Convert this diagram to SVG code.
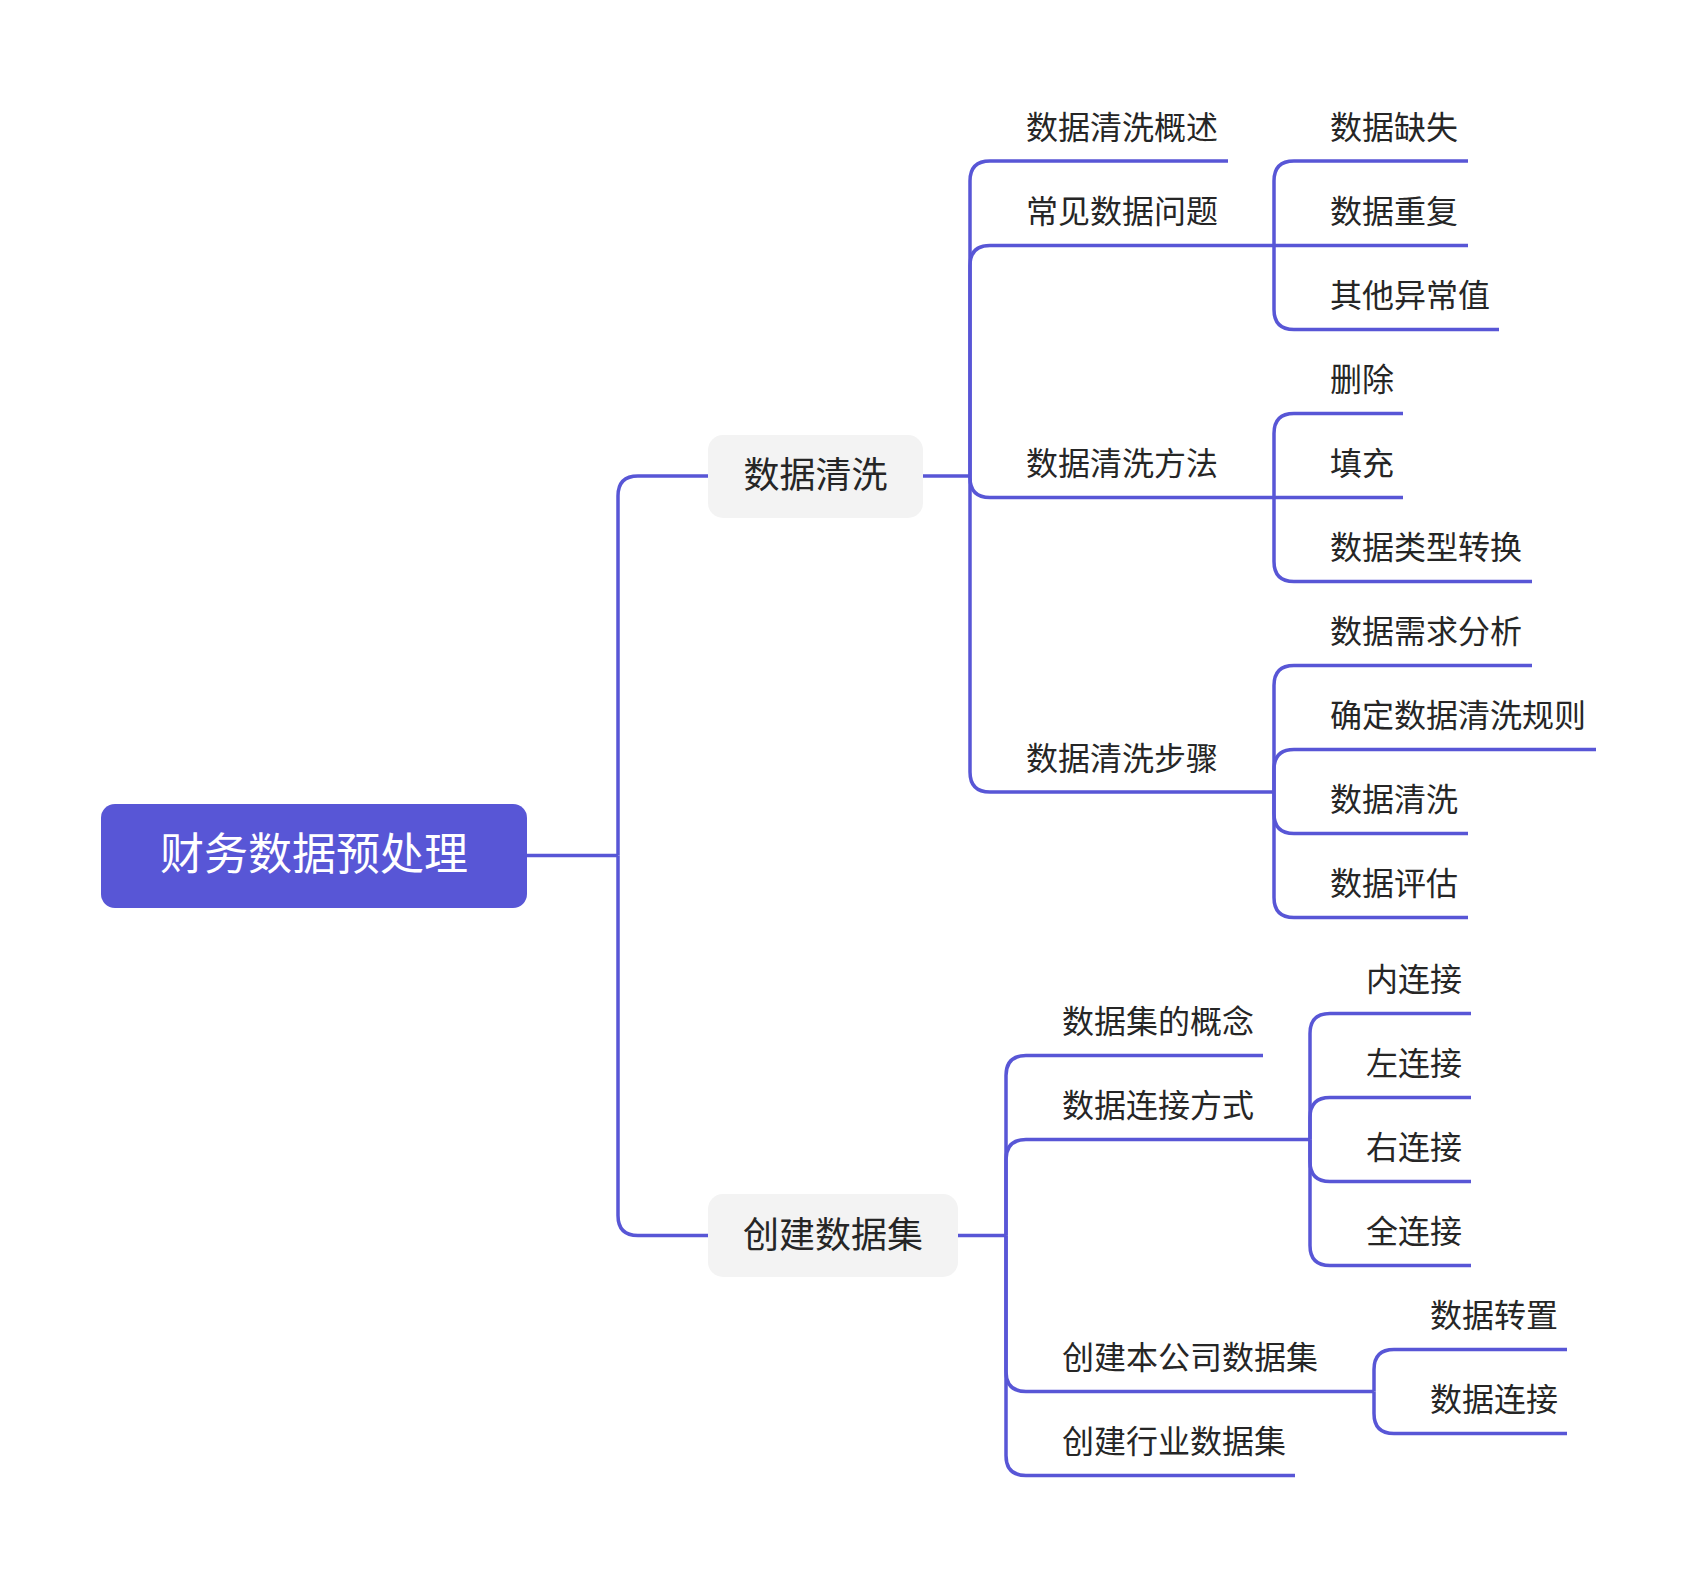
<svg xmlns="http://www.w3.org/2000/svg" width="1696" height="1578" viewBox="0 0 1696 1578">
<style>
.c{fill:none;stroke:#5856D6;stroke-width:3.5;stroke-linecap:butt;stroke-linejoin:round}
.t{font-family:"Noto Sans CJK SC","Noto Sans",sans-serif;fill:#262626}
.s{font-size:32px}
.n{font-size:36px;text-anchor:middle}
.r{font-size:44px;fill:#FFFFFF;text-anchor:middle}
.box{fill:#F3F3F3}
</style>
<rect width="1696" height="1578" fill="#FFFFFF"/>
<g id="connectors">
<path class="c" d="M527 855.5 H618"/>
<path class="c" d="M618 855.5 V496 Q618 476 638 476 H708"/>
<path class="c" d="M618 855.5 V1215.5 Q618 1235.5 638 1235.5 H708"/>
<path class="c" d="M923 476 H970"/>
<path class="c" d="M958 1235.5 H1006"/>
<path class="c" d="M970 476 V181 Q970 161 990 161 H1228"/>
<path class="c" d="M970 476 V265.5 Q970 245.5 990 245.5 H1274"/>
<path class="c" d="M970 476 V477.5 Q970 497.5 990 497.5 H1274"/>
<path class="c" d="M970 476 V772 Q970 792 990 792 H1274"/>
<path class="c" d="M1274 245.5 V181 Q1274 161 1294 161 H1468"/>
<path class="c" d="M1274 245.5 H1468"/>
<path class="c" d="M1274 245.5 V309.5 Q1274 329.5 1294 329.5 H1499"/>
<path class="c" d="M1274 497.5 V433.5 Q1274 413.5 1294 413.5 H1403"/>
<path class="c" d="M1274 497.5 H1403"/>
<path class="c" d="M1274 497.5 V561.5 Q1274 581.5 1294 581.5 H1532"/>
<path class="c" d="M1274 792 V685.5 Q1274 665.5 1294 665.5 H1532"/>
<path class="c" d="M1274 792 V769.5 Q1274 749.5 1294 749.5 H1596"/>
<path class="c" d="M1274 792 V813.5 Q1274 833.5 1294 833.5 H1468"/>
<path class="c" d="M1274 792 V897.5 Q1274 917.5 1294 917.5 H1468"/>
<path class="c" d="M1006 1235.5 V1075.5 Q1006 1055.5 1026 1055.5 H1263"/>
<path class="c" d="M1006 1235.5 V1159.5 Q1006 1139.5 1026 1139.5 H1310"/>
<path class="c" d="M1006 1235.5 V1371.5 Q1006 1391.5 1026 1391.5 H1374"/>
<path class="c" d="M1006 1235.5 V1455.5 Q1006 1475.5 1026 1475.5 H1295"/>
<path class="c" d="M1310 1139.5 V1033.5 Q1310 1013.5 1330 1013.5 H1471"/>
<path class="c" d="M1310 1139.5 V1117.5 Q1310 1097.5 1330 1097.5 H1471"/>
<path class="c" d="M1310 1139.5 V1161.5 Q1310 1181.5 1330 1181.5 H1471"/>
<path class="c" d="M1310 1139.5 V1245.5 Q1310 1265.5 1330 1265.5 H1471"/>
<path class="c" d="M1374 1391.5 V1369.5 Q1374 1349.5 1394 1349.5 H1567"/>
<path class="c" d="M1374 1391.5 V1413.5 Q1374 1433.5 1394 1433.5 H1567"/>
</g>
<g id="root">
<rect x="101" y="804" width="426" height="104" rx="14" fill="#5856D6"/>
<text class="t r" x="314" y="870">财务数据预处理</text>
</g>
<g id="n-cleaning">
<rect class="box" x="708" y="435" width="215" height="83" rx="15"/>
<text class="t n" x="815.5" y="488">数据清洗</text>
</g>
<g id="n-dataset">
<rect class="box" x="708" y="1194" width="250" height="83" rx="15"/>
<text class="t n" x="833" y="1247.5">创建数据集</text>
</g>
<g id="n-overview"><text class="t s" x="1026" y="138.5">数据清洗概述</text></g>
<g id="n-problems"><text class="t s" x="1026" y="223">常见数据问题</text></g>
<g id="n-methods"><text class="t s" x="1026" y="475">数据清洗方法</text></g>
<g id="n-steps"><text class="t s" x="1026" y="769.5">数据清洗步骤</text></g>
<g id="n-missing"><text class="t s" x="1330" y="138.5">数据缺失</text></g>
<g id="n-duplicate"><text class="t s" x="1330" y="223">数据重复</text></g>
<g id="n-outlier"><text class="t s" x="1330" y="307">其他异常值</text></g>
<g id="n-delete"><text class="t s" x="1330" y="391">删除</text></g>
<g id="n-fill"><text class="t s" x="1330" y="475">填充</text></g>
<g id="n-convert"><text class="t s" x="1330" y="559">数据类型转换</text></g>
<g id="n-demand"><text class="t s" x="1330" y="643">数据需求分析</text></g>
<g id="n-rules"><text class="t s" x="1330" y="727">确定数据清洗规则</text></g>
<g id="n-clean2"><text class="t s" x="1330" y="811">数据清洗</text></g>
<g id="n-eval"><text class="t s" x="1330" y="895">数据评估</text></g>
<g id="n-concept"><text class="t s" x="1062" y="1033">数据集的概念</text></g>
<g id="n-join"><text class="t s" x="1062" y="1117">数据连接方式</text></g>
<g id="n-own"><text class="t s" x="1062" y="1369">创建本公司数据集</text></g>
<g id="n-industry"><text class="t s" x="1062" y="1453">创建行业数据集</text></g>
<g id="n-inner"><text class="t s" x="1366" y="991">内连接</text></g>
<g id="n-left"><text class="t s" x="1366" y="1075">左连接</text></g>
<g id="n-right"><text class="t s" x="1366" y="1159">右连接</text></g>
<g id="n-full"><text class="t s" x="1366" y="1243">全连接</text></g>
<g id="n-transpose"><text class="t s" x="1430" y="1327">数据转置</text></g>
<g id="n-connect"><text class="t s" x="1430" y="1411">数据连接</text></g>
</svg>
